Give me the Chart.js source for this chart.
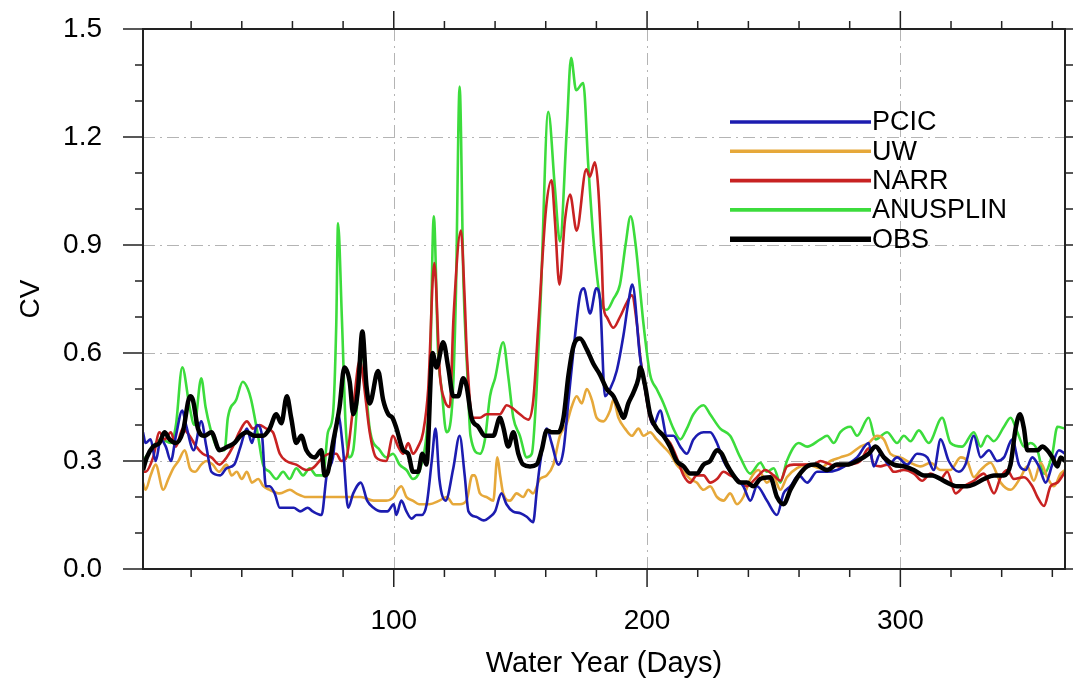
<!DOCTYPE html>
<html lang="en">
<head>
  <meta charset="UTF-8">
  <title>CV - Water Year</title>
  <script src="https://cdn.jsdelivr.net/npm/chart.js"></script>
  <style>
    body { margin: 0; background: #fff; }
    #wrap { width: 1073px; height: 681px; }
  </style>
</head>
<body>
  <div id="wrap">
    <canvas id="grafico" width="1073" height="681"></canvas>
  </div>

<script>
  // [day, cv] pairs
  const pcic = [[1,0.38],[2,0.35],[4,0.36],[6,0.30],[8,0.36],[10,0.34],[12,0.30],[14,0.37],[16.5,0.44],[18,0.40],[21,0.33],[24,0.41],[26,0.34],[28,0.27],[31.5,0.26],[34,0.28],[37,0.29],[39.5,0.34],[42,0.39],[44,0.35],[46,0.40],[48,0.37],[49.5,0.23],[51,0.23],[53,0.21],[55,0.17],[58,0.17],[60.5,0.17],[63,0.16],[66,0.17],[68,0.16],[71.5,0.15],[73.5,0.26],[76,0.31],[78,0.43],[80,0.33],[82,0.17],[84,0.21],[87,0.24],[89.5,0.19],[92,0.17],[95,0.16],[97.5,0.16],[100,0.18],[101,0.15],[103,0.19],[105,0.16],[107,0.14],[109,0.15],[111,0.15],[113,0.18],[115,0.30],[116.5,0.39],[118,0.25],[120.5,0.19],[123.5,0.28],[126,0.37],[128,0.26],[129.5,0.16],[132.5,0.145],[135.5,0.135],[138,0.145],[140,0.16],[142.5,0.21],[144.5,0.18],[147,0.16],[150,0.155],[152.5,0.145],[155,0.13],[156.5,0.22],[157.7,0.29],[160.4,0.39],[162.3,0.35],[165,0.29],[167,0.33],[169,0.47],[171,0.61],[173.5,0.76],[175,0.78],[177.5,0.71],[180,0.78],[181.4,0.75],[183.4,0.48],[185.4,0.50],[188,0.55],[190.7,0.65],[192.6,0.74],[194.2,0.79],[197.2,0.59],[199.2,0.50],[202.5,0.40],[205.2,0.44],[207.8,0.37],[210.4,0.37],[213.1,0.34],[215.7,0.32],[218.3,0.36],[222.3,0.38],[224.9,0.38],[227.6,0.35],[230.2,0.30],[232.8,0.27],[235.5,0.25],[238,0.23],[240.8,0.19],[243.4,0.23],[247.3,0.19],[251.3,0.15],[253.9,0.21],[256.6,0.23],[259.9,0.26],[263.2,0.24],[267.1,0.27],[271.1,0.27],[275,0.275],[279,0.29],[282.9,0.31],[287.5,0.35],[289.5,0.285],[292.1,0.32],[295.4,0.29],[298.7,0.31],[302.7,0.29],[306.6,0.32],[310.6,0.31],[313.2,0.275],[315.9,0.36],[319.1,0.30],[323.1,0.27],[325.7,0.29],[329,0.37],[331.7,0.31],[335,0.33],[338.2,0.30],[340.9,0.31],[344.2,0.36],[346.8,0.29],[349.4,0.275],[352.1,0.31],[354.7,0.285],[357.4,0.24],[360,0.29],[362.6,0.33],[365,0.32]];

  const uw = [[1,0.24],[2,0.22],[4,0.26],[6,0.29],[9,0.22],[11,0.25],[13,0.28],[15,0.30],[17.5,0.33],[19.5,0.28],[21.5,0.27],[24,0.29],[26,0.30],[28.5,0.29],[31,0.27],[34,0.29],[36,0.26],[38,0.27],[40,0.25],[42,0.27],[44,0.24],[46.5,0.25],[48.5,0.23],[51,0.22],[55,0.21],[59,0.22],[61.5,0.21],[65.5,0.20],[69.5,0.20],[73.5,0.20],[77,0.20],[81,0.20],[87,0.20],[92,0.19],[97,0.19],[100,0.20],[101.5,0.22],[103,0.23],[105,0.20],[107.5,0.19],[110,0.18],[114,0.18],[118,0.19],[121,0.20],[123.5,0.18],[126,0.18],[128.7,0.19],[131,0.26],[132,0.26],[134,0.21],[136.6,0.20],[139.3,0.19],[140.9,0.31],[142,0.26],[143.2,0.21],[145.9,0.19],[148.5,0.21],[151.1,0.20],[153.1,0.22],[155,0.21],[157.7,0.25],[160.4,0.26],[163,0.29],[165.6,0.37],[168.3,0.405],[170.2,0.45],[172.2,0.48],[174.2,0.46],[176.2,0.50],[178.2,0.47],[180.1,0.42],[182.8,0.41],[185.4,0.44],[186.7,0.47],[188.7,0.42],[191.3,0.39],[194,0.37],[196.6,0.39],[198.6,0.37],[201.2,0.38],[203.8,0.36],[206.5,0.34],[209.1,0.32],[211.7,0.29],[214.4,0.27],[217,0.25],[219.6,0.24],[222.3,0.22],[224.9,0.23],[227.6,0.20],[230.2,0.19],[232.8,0.21],[235.5,0.18],[238,0.20],[240.8,0.25],[244,0.275],[247.3,0.24],[250,0.255],[252.6,0.22],[255.2,0.255],[259.2,0.28],[263.2,0.29],[268.4,0.28],[272.4,0.30],[276.3,0.31],[280.3,0.32],[284.2,0.34],[287.5,0.35],[290.8,0.37],[293.5,0.36],[296.1,0.32],[300,0.31],[304,0.295],[308,0.285],[311.9,0.295],[315.9,0.275],[319.8,0.275],[323.8,0.31],[326.4,0.30],[329,0.255],[331.7,0.275],[335.6,0.295],[339.6,0.24],[343.5,0.22],[347.5,0.255],[350.1,0.285],[352.7,0.245],[355.4,0.295],[358,0.255],[360.6,0.23],[363.3,0.265],[365,0.275]];

  const narr = [[1,0.27],[2,0.27],[5,0.31],[7.5,0.38],[9.5,0.36],[12,0.38],[14,0.34],[16.7,0.39],[19.4,0.37],[22,0.34],[24.6,0.32],[28,0.31],[31.2,0.29],[34,0.31],[36.5,0.34],[39,0.38],[42,0.41],[44.4,0.39],[47,0.40],[49.7,0.39],[52.3,0.38],[55,0.32],[57.6,0.30],[61.5,0.29],[65.5,0.275],[68,0.28],[72,0.31],[74.7,0.32],[77.3,0.32],[79.3,0.30],[81.3,0.31],[84,0.45],[86.6,0.58],[87.9,0.53],[90.5,0.38],[93,0.31],[97,0.30],[99.7,0.37],[101.7,0.34],[103.7,0.32],[105.7,0.35],[107.6,0.32],[109.6,0.34],[111.6,0.38],[113.6,0.50],[116,0.85],[118.2,0.54],[120,0.47],[122.1,0.45],[123.6,0.70],[126.5,0.94],[128,0.75],[128.9,0.59],[131.4,0.42],[134,0.42],[136.6,0.43],[139.3,0.43],[141.9,0.43],[144.6,0.455],[147.2,0.445],[149.8,0.43],[153.1,0.415],[155.1,0.47],[157.1,0.68],[160.1,1.0],[162.3,1.08],[163.6,0.97],[165.4,0.79],[167.6,0.97],[169.6,1.04],[172.2,0.94],[176,1.11],[177.4,1.09],[179.4,1.13],[180.7,1.06],[182,0.88],[182.8,0.73],[184.1,0.70],[186.7,0.67],[189.3,0.70],[192,0.74],[194,0.76],[196,0.68],[197.3,0.59],[199.2,0.50],[201.2,0.42],[203.8,0.39],[206.5,0.37],[209.1,0.35],[211.7,0.31],[214.4,0.26],[217,0.24],[219.6,0.26],[222.3,0.26],[224.9,0.24],[227.6,0.25],[230.2,0.27],[232.8,0.26],[235.5,0.25],[239.4,0.23],[242.7,0.25],[246.7,0.275],[250,0.26],[252.6,0.245],[255.2,0.285],[257.9,0.29],[261.8,0.29],[265.8,0.29],[268.4,0.30],[272.4,0.29],[276.3,0.285],[280.3,0.29],[284.2,0.30],[287.5,0.335],[289.5,0.29],[292.1,0.285],[294.8,0.29],[297.4,0.27],[301.4,0.275],[305.3,0.265],[308.6,0.245],[311.9,0.265],[315.9,0.25],[318.5,0.27],[321.8,0.21],[325.1,0.23],[329,0.245],[333,0.265],[337,0.21],[339.6,0.255],[342.2,0.275],[344.8,0.25],[348.8,0.255],[352.1,0.23],[354.1,0.20],[356.7,0.175],[359.3,0.23],[362,0.24],[365,0.27]];

  const anusplin = [[1,0.30],[4,0.33],[8,0.36],[12,0.35],[14,0.40],[16.5,0.56],[19.4,0.45],[21.3,0.40],[24,0.53],[25.7,0.45],[27.6,0.39],[30,0.34],[33.2,0.33],[34.5,0.42],[37.8,0.47],[40.4,0.52],[42.4,0.50],[43.7,0.47],[46.4,0.37],[48.4,0.29],[51,0.27],[53.6,0.25],[56.3,0.27],[58.9,0.25],[61.5,0.28],[64.2,0.26],[66.8,0.28],[69.4,0.26],[72.1,0.26],[74,0.38],[76,0.43],[77.3,0.68],[78,0.96],[79.5,0.70],[81,0.40],[82.3,0.31],[84,0.33],[86,0.50],[87.5,0.61],[89,0.50],[90.5,0.39],[94.5,0.33],[97.1,0.31],[99.7,0.32],[102.3,0.29],[105,0.275],[107.6,0.25],[110.3,0.275],[112.9,0.37],[114.2,0.50],[115.8,0.98],[117.5,0.60],[118.9,0.50],[120.8,0.38],[123,0.45],[124.5,0.75],[126,1.34],[127.5,0.80],[129,0.55],[130.3,0.37],[134,0.32],[136,0.36],[138,0.48],[140,0.53],[143.2,0.63],[145.2,0.535],[147.2,0.42],[149.8,0.37],[152.5,0.31],[154.5,0.32],[156.4,0.50],[158,0.75],[161,1.27],[163.6,1.06],[165.6,0.91],[168.3,1.22],[170,1.42],[172,1.33],[174.8,1.35],[176.8,1.12],[178.8,0.92],[181.5,0.75],[184.1,0.72],[186.7,0.75],[189.3,0.79],[191.5,0.90],[193.5,0.98],[195.5,0.90],[197.6,0.75],[198.6,0.68],[201.2,0.54],[203.8,0.50],[206.5,0.46],[210.4,0.39],[213.1,0.36],[215.7,0.39],[218.3,0.43],[222.3,0.455],[224.9,0.43],[228.9,0.39],[232.8,0.37],[236.8,0.31],[240.7,0.265],[244.7,0.295],[247.3,0.27],[250,0.28],[252.6,0.24],[255.2,0.30],[259.9,0.35],[263.2,0.34],[268.4,0.36],[271.1,0.37],[273.7,0.35],[276.3,0.38],[280.3,0.395],[282.9,0.37],[287.5,0.42],[290.2,0.36],[294.8,0.38],[298.7,0.35],[301.4,0.37],[304,0.355],[307.3,0.385],[311.2,0.35],[316.5,0.42],[319.8,0.35],[324.4,0.34],[329,0.38],[331.7,0.34],[334.3,0.37],[336.9,0.355],[340.9,0.395],[343.5,0.42],[346.2,0.38],[348.8,0.34],[351.4,0.35],[354.1,0.33],[356.7,0.265],[360,0.32],[362,0.395],[365,0.39]];

  const obs = [[1,0.275],[2.5,0.31],[5,0.34],[7.5,0.35],[9.5,0.38],[11.5,0.36],[14,0.35],[16.7,0.38],[19.6,0.48],[20.7,0.47],[22.7,0.39],[25.3,0.37],[28,0.38],[31.2,0.33],[34.5,0.34],[37.1,0.35],[39.5,0.37],[42,0.38],[45,0.37],[48.4,0.37],[51,0.39],[53.6,0.43],[55.6,0.405],[57.8,0.48],[59.5,0.42],[61.5,0.35],[63.5,0.37],[65.5,0.33],[68.8,0.31],[71.4,0.33],[72.7,0.26],[74,0.27],[76,0.35],[78.6,0.45],[80.5,0.56],[82.6,0.52],[84,0.43],[85.9,0.50],[87.6,0.66],[89.2,0.51],[90.5,0.46],[93.8,0.55],[95.8,0.47],[97.8,0.43],[99.5,0.42],[101.1,0.39],[103.7,0.33],[105.7,0.32],[107.6,0.27],[109.6,0.27],[111.3,0.32],[112.9,0.29],[115.3,0.60],[116.9,0.56],[119.5,0.63],[121.5,0.56],[123.5,0.48],[125.4,0.48],[127.4,0.53],[128.7,0.51],[130.7,0.42],[133.4,0.395],[136,0.37],[139.3,0.37],[141.9,0.42],[143.2,0.395],[145.2,0.34],[147.2,0.38],[149.2,0.32],[151.1,0.29],[153.8,0.285],[156.4,0.29],[158.4,0.33],[160.4,0.385],[162.3,0.38],[165,0.38],[167,0.42],[169,0.54],[171,0.62],[173.5,0.64],[176.2,0.61],[178.8,0.57],[181.4,0.54],[184.1,0.50],[186.7,0.48],[189.3,0.44],[190.7,0.42],[192.6,0.46],[194.6,0.49],[196.6,0.53],[197.3,0.56],[199.2,0.51],[201.2,0.43],[203.8,0.39],[206.5,0.37],[209.1,0.34],[211.7,0.30],[214.4,0.285],[217,0.265],[219.6,0.265],[222.3,0.29],[224.9,0.30],[227.6,0.33],[229.5,0.32],[231.5,0.29],[234.1,0.26],[236.8,0.24],[239.4,0.24],[242,0.23],[244.7,0.25],[248.6,0.255],[251.3,0.20],[253.9,0.18],[256.6,0.22],[259.9,0.26],[263.2,0.285],[266.4,0.29],[271.1,0.275],[275,0.29],[279,0.29],[282.9,0.30],[287.5,0.32],[290.2,0.34],[293.5,0.31],[297.4,0.29],[301.4,0.285],[305.3,0.275],[309.3,0.26],[312.6,0.26],[315.9,0.25],[318.5,0.24],[322.4,0.23],[326.4,0.23],[329,0.235],[333,0.25],[337,0.26],[340.9,0.26],[343.5,0.29],[345.5,0.39],[347.2,0.43],[348.8,0.39],[350.1,0.33],[352.1,0.33],[354.1,0.33],[356,0.34],[358,0.33],[360,0.31],[362,0.285],[363.3,0.31],[365,0.30]];

  const seriesNames = ['PCIC', 'UW', 'NARR', 'ANUSPLIN', 'OBS'];
  const xTicks = [100, 200, 300];
  const yTicks = [0, 0.3, 0.6, 0.9, 1.2, 1.5];

  const colores = ['#1c1cb0', '#e6a83a', '#c82222', '#3cdc3c', '#000000'];
  const grosor = [2.6, 2.6, 2.6, 2.6, 4.5];
  const orden = [2, 4, 3, 5, 1];   // higher draws first -> OBS on top

  Chart.defaults.font.family = '"Liberation Sans", Arial, sans-serif';
  Chart.defaults.color = '#000';

  const aPuntos = arr => arr.map(p => ({ x: p[0], y: p[1] }));

  // grid, frame, ticks (major + minor) and legend
  const marco = {
    id: 'marco',
    beforeDatasetsDraw(chart) {
      const { ctx, chartArea: a, scales: { x, y } } = chart;
      ctx.save();
      ctx.strokeStyle = '#b4b4b4';
      ctx.lineWidth = 1;
      ctx.setLineDash([12, 5, 2, 5]);
      ctx.beginPath();
      xTicks.forEach(v => {
        const px = Math.round(x.getPixelForValue(v)) + 0.5;
        ctx.moveTo(px, a.top); ctx.lineTo(px, a.bottom);
      });
      yTicks.forEach(v => {
        if (v <= y.min || v >= y.max) return;
        const py = Math.round(y.getPixelForValue(v)) + 0.5;
        ctx.moveTo(a.left, py); ctx.lineTo(a.right, py);
      });
      ctx.stroke();
      ctx.restore();
    },
    afterDatasetsDraw(chart) {
      const { ctx, chartArea: a, scales: { x, y } } = chart;
      ctx.save();
      ctx.strokeStyle = '#222';
      ctx.lineWidth = 1.5;
      ctx.beginPath();
      // x ticks: minor every 20, major at labels
      for (let d = 20; d <= 360; d += 20) {
        const major = xTicks.includes(d);
        const len = major ? 18 : 8;
        const px = x.getPixelForValue(d);
        ctx.moveTo(px, a.bottom); ctx.lineTo(px, a.bottom + len);
        ctx.moveTo(px, a.top); ctx.lineTo(px, a.top - len);
      }
      // y ticks: minor every 0.1, major every 0.3
      for (let i = 0; i <= 15; i++) {
        const major = i % 3 === 0;
        const len = major ? 20 : 8;
        const py = y.getPixelForValue(i / 10);
        ctx.moveTo(a.left, py); ctx.lineTo(a.left - len, py);
        ctx.moveTo(a.right, py); ctx.lineTo(a.right + len, py);
      }
      ctx.stroke();
      ctx.lineWidth = 2;
      ctx.strokeRect(a.left, a.top, a.right - a.left, a.bottom - a.top);

      // legend
      ctx.font = '27px "Liberation Sans", Arial, sans-serif';
      ctx.textBaseline = 'middle';
      ctx.textAlign = 'left';
      chart.data.datasets.forEach((ds, i) => {
        const ly = 122 + i * 29.3;
        ctx.strokeStyle = ds.borderColor;
        ctx.lineWidth = ds.borderWidth + 1;
        ctx.beginPath();
        ctx.moveTo(730, ly); ctx.lineTo(871, ly);
        ctx.stroke();
        ctx.fillStyle = '#000';
        ctx.fillText(ds.label, 872, ly + 1);
      });
      ctx.restore();
    }
  };

  const conjuntos = [pcic, uw, narr, anusplin, obs].map((serie, i) => ({
    label: seriesNames[i],
    data: aPuntos(serie),
    borderColor: colores[i],
    borderWidth: grosor[i],
    pointRadius: 0,
    fill: false,
    cubicInterpolationMode: 'monotone',
    order: orden[i]
  }));

  new Chart(document.getElementById('grafico'), {
    type: 'line',
    data: { datasets: conjuntos },
    options: {
      responsive: false,
      animation: false,
      layout: { padding: { top: 29, right: 8, left: 0, bottom: 0 } },
      plugins: { legend: { display: false }, tooltip: { enabled: false } },
      scales: {
        x: {
          type: 'linear',
          min: 1,
          max: 365,
          afterBuildTicks: s => { s.ticks = xTicks.map(v => ({ value: v })); },
          afterFit: s => { s.height = 112; s.paddingLeft = 0; s.paddingRight = 0; },
          grid: { display: false, drawTicks: false },
          border: { display: false },
          ticks: { font: { size: 28 }, color: '#000', padding: 35, maxRotation: 0, autoSkip: false },
          title: { display: true, text: 'Water Year (Days)', font: { size: 29 }, color: '#000', padding: { top: 0, bottom: 0 } }
        },
        y: {
          min: 0,
          max: 1.5,
          afterBuildTicks: s => { s.ticks = yTicks.map(v => ({ value: v })); },
          afterFit: s => { s.width = 143; s.paddingTop = 0; s.paddingBottom = 0; },
          grid: { display: false, drawTicks: false },
          border: { display: false },
          ticks: { font: { size: 28 }, color: '#000', padding: 41, autoSkip: false, callback: v => v.toFixed(1) },
          title: { display: true, text: 'CV', font: { size: 28 }, color: '#000', padding: { top: 14, bottom: 0 } }
        }
      }
    },
    plugins: [marco]
  });
</script>
</body>
</html>
